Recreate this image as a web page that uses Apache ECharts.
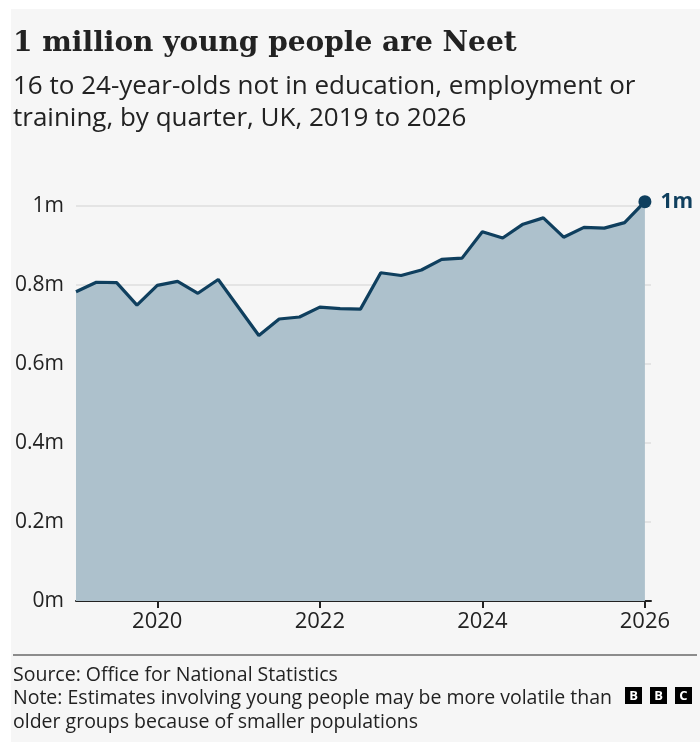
<!DOCTYPE html>
<html>
<head>
<meta charset="utf-8">
<script src="https://cdn.jsdelivr.net/npm/echarts@6/dist/echarts.min.js"></script>
<style>
  html, body { margin: 0; padding: 0; background: #fff; }
  #card { position: absolute; left: 11px; top: 9px; width: 689px; height: 733px; background: #f6f6f6; }
  #chart { position: absolute; left: 0; top: 0; width: 700px; height: 742px; }
</style>
</head>
<body>
<div id="card"></div>
<div id="chart"></div>
<script>
  // quarterly Neet counts, millions, 2019 Q1 .. 2026 Q1
  const startYear = 2019;
  const neetMillions = [
    0.783, 0.807, 0.806, 0.749, 0.799, 0.809, 0.779, 0.814,
    0.743, 0.672, 0.714, 0.719, 0.744, 0.740, 0.739, 0.831,
    0.824, 0.838, 0.865, 0.868, 0.935, 0.919, 0.954, 0.970,
    0.921, 0.946, 0.944, 0.958, 1.011
  ];
  const yearTicks = [2020, 2022, 2024, 2026];
  const endLabel = '1m';

  const points = neetMillions.map((v, i) => [startYear + i * 0.25, v]);
  const last = points[points.length - 1];
  const sans = '"Open Sans", "Noto Sans", sans-serif';

  const chart = echarts.init(document.getElementById('chart'));
  chart.setOption({
    animation: false,
    grid: { left: 76, right: 49, top: 206, bottom: 141 },
    graphic: [
      { type: 'text', left: 13, top: 30, style: { text: '1 million young people are Neet', font: 'bold 28px "DejaVu Serif", serif', fill: '#222' } },
      { type: 'text', left: 13, top: 71, style: { text: '16 to 24-year-olds not in education, employment or\ntraining, by quarter, UK, 2019 to 2026', font: '26px ' + sans, fill: '#222', lineHeight: 32 } },
      { type: 'rect', shape: { x: 13, y: 654, width: 684, height: 2 }, style: { fill: '#8c8c8c' } },
      { type: 'text', left: 13, top: 664, style: { text: 'Source: Office for National Statistics\nNote: Estimates involving young people may be more volatile than\nolder groups because of smaller populations', font: '19.5px ' + sans, fill: '#222', lineHeight: 23.2 } },
      { type: 'group', left: 625, top: 687, children: ['B', 'B', 'C'].map((c, i) => ({
        type: 'group', x: i * 25, children: [
          { type: 'rect', shape: { x: 0, y: 0, width: 17, height: 17 }, style: { fill: '#000' } },
          { type: 'text', x: 8.5, y: 9, style: { text: c, font: 'bold 13px ' + sans, fill: '#fff', align: 'center', verticalAlign: 'middle' } }
        ]
      })) }
    ],
    xAxis: {
      type: 'value', min: startYear, max: 2026.075,
      axisLine: { show: true, lineStyle: { color: '#222', width: 2 } },
      axisTick: { show: true, customValues: yearTicks, length: 7, lineStyle: { color: '#222', width: 2 } },
      axisLabel: { customValues: yearTicks, color: '#222', fontSize: 22, fontFamily: sans, margin: 10, formatter: v => String(v) },
      splitLine: { show: false }
    },
    yAxis: {
      type: 'value', min: 0, max: 1, interval: 0.2,
      axisLine: { show: false }, axisTick: { show: false },
      axisLabel: { color: '#222', fontSize: 21, fontFamily: sans, margin: 12, formatter: v => +v.toFixed(1) + 'm' },
      splitLine: { lineStyle: { color: '#e4e4e4', width: 2 } }
    },
    series: [{
      type: 'line', data: points, smooth: false, z: 2, clip: false,
      symbol: 'none',
      lineStyle: { color: '#0f3f5e', width: 3.2 },
      areaStyle: { color: '#adc1cc', opacity: 1 }
    }, {
      type: 'scatter', data: [last], clip: false, z: 3,
      symbol: 'circle', symbolSize: 13,
      itemStyle: { color: '#0f3f5e', opacity: 1 },
      label: { show: true, position: 'right', distance: 9, formatter: endLabel, color: '#0f3f5e', fontSize: 21, fontWeight: 'bold', fontFamily: sans }
    }]
  });
</script>
</body>
</html>
